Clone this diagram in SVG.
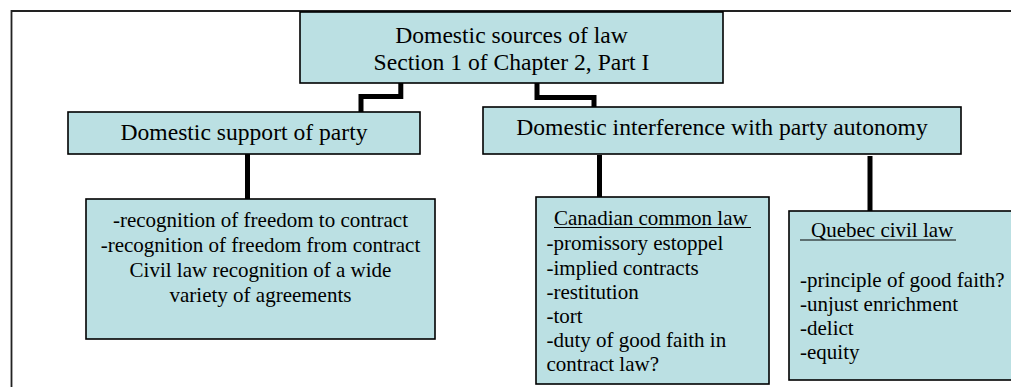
<svg xmlns="http://www.w3.org/2000/svg" width="1011" height="387" viewBox="0 0 1011 387">
<style>
.box{fill:#BBE0E3;stroke:#000;stroke-width:1.6}
text{font-family:'Liberation Serif','Times New Roman',Times,'Tinos','DejaVu Serif',serif;fill:#000}
.h{font-size:23.6px;text-anchor:middle}
.b{font-size:21px}
.c{text-anchor:middle}
.conn{fill:none;stroke:#000;stroke-width:5}
.ul{stroke:#000;stroke-width:1}
</style>
<rect width="1011" height="387" fill="#fff"/>
<path d="M11.5,387 V11 H1011" fill="none" stroke="#222" stroke-width="1.8"/>
<g id="connectors">
<path class="conn" d="M400.8,83 V96.5 H361 V112"/>
<path class="conn" d="M537,83 V97.5 H594 V107"/>
<path class="conn" d="M247.5,154 V199"/>
<path class="conn" d="M599.5,155 V197"/>
<path class="conn" d="M870,156 V211"/>
</g>
<g id="root">
<rect class="box" x="300" y="12" width="423" height="71"/>
<text class="h" x="511.5" y="43">Domestic sources of law</text>
<text class="h" x="511.5" y="70">Section 1 of Chapter 2, Part I</text>
</g>
<g id="support">
<rect class="box" x="68" y="112" width="352" height="42"/>
<text class="h" x="244" y="140">Domestic support of party</text>
</g>
<g id="interference">
<rect class="box" x="483" y="107" width="478" height="47"/>
<text class="h" x="722" y="135">Domestic interference with party autonomy</text>
</g>
<g id="freedom">
<rect class="box" x="86" y="199" width="349" height="140"/>
<text class="b c" x="260.5" y="227">-recognition of freedom to contract</text>
<text class="b c" x="260.5" y="252">-recognition of freedom from contract</text>
<text class="b c" x="260.5" y="277">Civil law recognition of a wide</text>
<text class="b c" x="260.5" y="302">variety of agreements</text>
</g>
<g id="canadian">
<rect class="box" x="536" y="197" width="233" height="187"/>
<text class="b" x="554" y="225">Canadian common law</text>
<line class="ul" x1="554" y1="227.5" x2="751" y2="227.5"/>
<text class="b" x="546.5" y="250">-promissory estoppel</text>
<text class="b" x="546.5" y="274.5">-implied contracts</text>
<text class="b" x="546.5" y="299">-restitution</text>
<text class="b" x="546.5" y="323">-tort</text>
<text class="b" x="546.5" y="347">-duty of good faith in</text>
<text class="b" x="546.5" y="371">contract law?</text>
</g>
<g id="quebec">
<rect class="box" x="789" y="211" width="240" height="169"/>
<text class="b" x="811" y="237">Quebec civil law</text>
<line class="ul" x1="800" y1="240" x2="956" y2="240"/>
<text class="b" x="800" y="287">-principle of good faith?</text>
<text class="b" x="800" y="311">-unjust enrichment</text>
<text class="b" x="800" y="335">-delict</text>
<text class="b" x="800" y="359">-equity</text>
</g>
</svg>
